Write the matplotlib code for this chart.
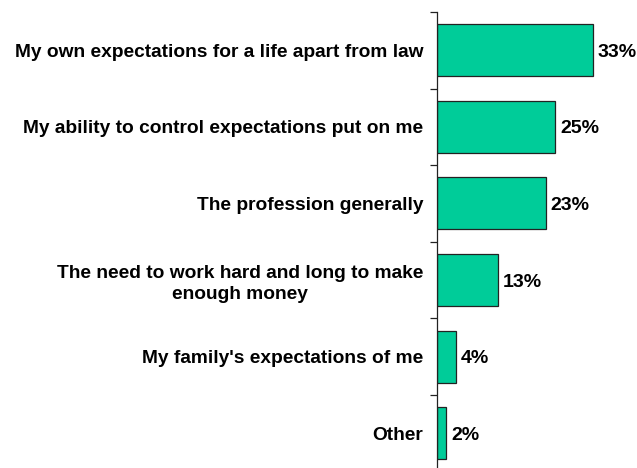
import numpy as np
import matplotlib.pyplot as plt

plt.rcParams["font.family"] = ["Liberation Sans", "DejaVu Sans"]

categories = [
    "My own expectations for a life apart from law",
    "My ability to control expectations put on me",
    "The profession generally",
    "The need to work hard and long to make\nenough money",
    "My family's expectations of me",
    "Other",
]
values = [33, 25, 23, 13, 4, 2]
value_labels = ["33%", "25%", "23%", "13%", "4%", "2%"]

fig = plt.figure(figsize=(6.37, 4.68), dpi=100)
# axis area: left spine at x=437px, top at y=12px, bottom just below the image edge
ax = fig.add_axes([437 / 637, -0.0075, 200 / 637, 0.982])

pos = np.arange(len(categories))
ax.barh(pos, values, height=0.68, color="#00CC99", edgecolor="#222222", linewidth=0.9)
ax.set_ylim(len(categories) - 0.5, -0.5)
ax.set_xlim(0, 42.3)

for y, v, lab in zip(pos, values, value_labels):
    ax.text(v + 1.0, y, lab, va="center_baseline", ha="left", fontsize=14, fontweight="bold")

ax.set_yticks(pos)
ax.set_yticklabels(categories, fontsize=13.8, fontweight="bold",
                   multialignment="center", linespacing=1.3)
ax.tick_params(axis="y", which="major", length=0, pad=10)
ax.set_yticks(np.arange(len(categories) + 1) - 0.5, minor=True)
ax.tick_params(axis="y", which="minor", length=5, width=0.9, color="#222222")

ax.set_xticks([])
for side in ["top", "right", "bottom"]:
    ax.spines[side].set_visible(False)
ax.spines["left"].set_color("#222222")
ax.spines["left"].set_linewidth(0.9)

fig.savefig("out.png", dpi=100)
